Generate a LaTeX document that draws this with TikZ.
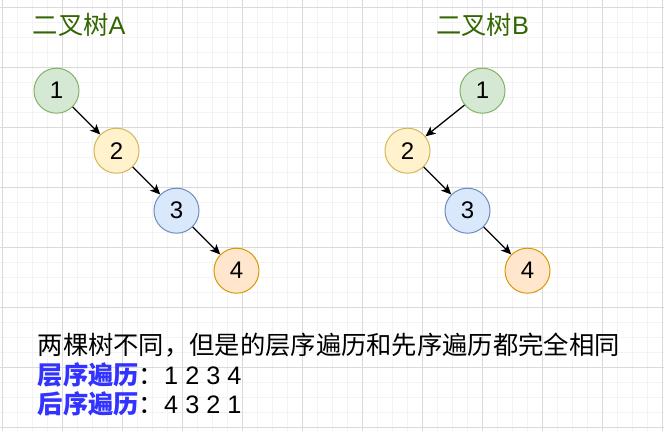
\documentclass[tikz,border=0pt]{standalone}
\usepackage{fontspec}
\setmainfont{Liberation Sans}
\newfontfamily\cjk{Noto Sans CJK SC}
\usetikzlibrary{arrows.meta}
\definecolor{gminor}{HTML}{F3F3F3}
\definecolor{gmajor}{HTML}{DADADA}
\definecolor{titlegreen}{HTML}{336600}
\definecolor{hlblue}{HTML}{3333FF}
\definecolor{gfill}{HTML}{D5E8D4}\definecolor{gline}{HTML}{82B366}
\definecolor{yfill}{HTML}{FFF2CC}\definecolor{yline}{HTML}{D6B656}
\definecolor{bfill}{HTML}{DAE8FC}\definecolor{bline}{HTML}{6C8EBF}
\definecolor{ofill}{HTML}{FFE6CC}\definecolor{oline}{HTML}{D79B00}
\tikzset{
  tnode/.style={circle,minimum size=45pt,inner sep=0pt,line width=1pt,
    font=\fontsize{24}{28}\selectfont},
  gn/.style={tnode,fill=gfill,draw=gline},
  yn/.style={tnode,fill=yfill,draw=yline},
  bn/.style={tnode,fill=bfill,draw=bline},
  on/.style={tnode,fill=ofill,draw=oline},
  arr/.style={line width=1.3pt,-{Stealth[length=10pt,width=9pt,inset=2.5pt]}},
  title/.style={anchor=base west,inner sep=0pt,text=titlegreen,
    font=\fontsize{25.3}{30}\selectfont},
  txt/.style={anchor=base west,inner sep=0pt,
    font=\fontsize{25.3}{30}\selectfont}
}
\begin{document}
\begin{tikzpicture}[x=1pt,y=-1pt]
\useasboundingbox (0,0) rectangle (664,431);
\fill[white] (0,0) rectangle (664,431);
% grid
\foreach \x in {2,17,...,662} \draw[gminor,line width=1pt] (\x,0) -- (\x,431);
\foreach \y in {7,22,...,427} \draw[gminor,line width=1pt] (0,\y) -- (664,\y);
\foreach \x in {2,62,...,662} \draw[gmajor,line width=0.8pt] (\x,0) -- (\x,431);
\foreach \y in {7,67,...,427} \draw[gmajor,line width=0.8pt] (0,\y) -- (664,\y);
% titles
\node[title] (ta) at (32.5,34.5) {{\cjk 二叉树}A};
\node[title] (tb) at (436,34.5) {{\cjk 二叉树}B};
% tree A
\node[gn] (a1) at (56.5,90.7) {1};
\node[yn] (a2) at (116.5,150.7) {2};
\node[bn] (a3) at (176.5,210.7) {3};
\node[on] (a4) at (236.5,270.7) {4};
\draw[arr] (a1) -- (a2);
\draw[arr] (a2) -- (a3);
\draw[arr] (a3) -- (a4);
% tree B
\node[gn] (b1) at (482.5,90.7) {1};
\node[yn] (b2) at (407.5,150.7) {2};
\node[bn] (b3) at (467.5,210.7) {3};
\node[on] (b4) at (527.5,270.7) {4};
\draw[arr] (b1) -- (b2);
\draw[arr] (b2) -- (b3);
\draw[arr] (b3) -- (b4);
% bottom text
\node[txt] (l1) at (37.5,354.5) {\cjk 两棵树不同，但是的层序遍历和先序遍历都完全相同};
\node[txt] (l2) at (37.5,384) {{\cjk\bfseries\color{hlblue}层序遍历}{\cjk ：}1 2 3 4};
\node[txt] (l3) at (37.5,413.5) {{\cjk\bfseries\color{hlblue}后序遍历}{\cjk ：}4 3 2 1};
\end{tikzpicture}
\end{document}
